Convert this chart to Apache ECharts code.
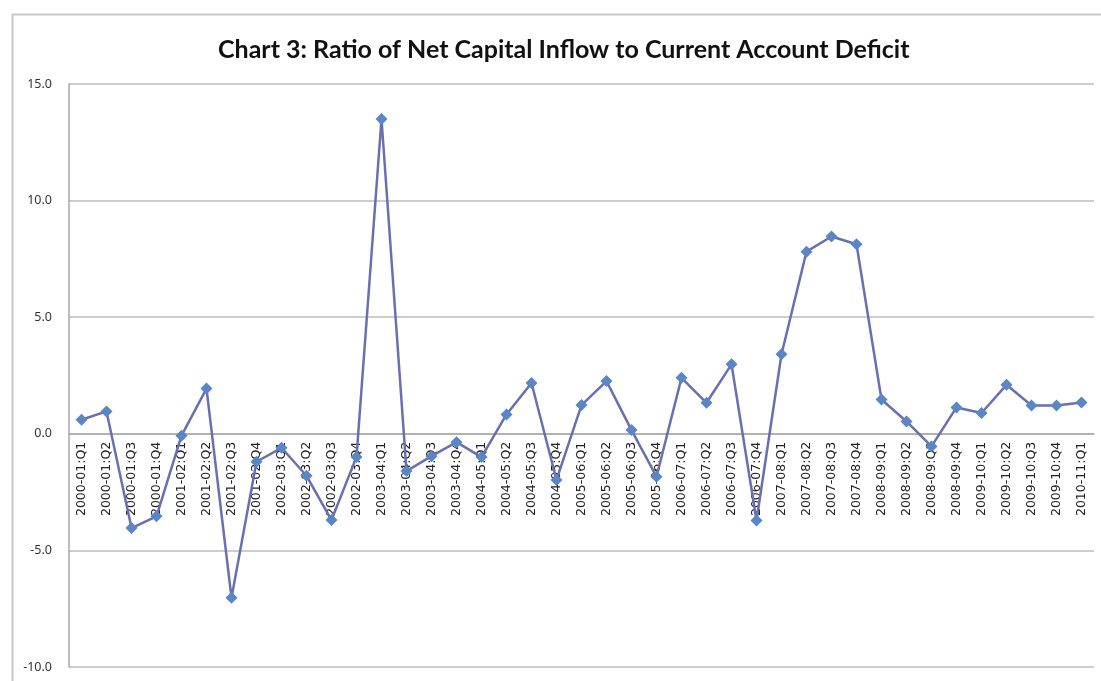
<!DOCTYPE html>
<html>
<head>
<meta charset="utf-8">
<script src="https://cdn.jsdelivr.net/npm/echarts@6/dist/echarts.min.js"></script>
<style>
  html, body { margin: 0; padding: 0; background: #fff; }
  #main { width: 1101px; height: 681px; }
</style>
</head>
<body>
<div id="main"></div>
<script>
// quarters
var quarters = [
  '2000-01:Q1', '2000-01:Q2', '2000-01:Q3', '2000-01:Q4',
  '2001-02:Q1', '2001-02:Q2', '2001-02:Q3', '2001-02:Q4',
  '2002-03:Q1', '2002-03:Q2', '2002-03:Q3', '2002-03:Q4',
  '2003-04:Q1', '2003-04:Q2', '2003-04:Q3', '2003-04:Q4',
  '2004-05:Q1', '2004-05:Q2', '2004-05:Q3', '2004-05:Q4',
  '2005-06:Q1', '2005-06:Q2', '2005-06:Q3', '2005-06:Q4',
  '2006-07:Q1', '2006-07:Q2', '2006-07:Q3', '2006-07:Q4',
  '2007-08:Q1', '2007-08:Q2', '2007-08:Q3', '2007-08:Q4',
  '2008-09:Q1', '2008-09:Q2', '2008-09:Q3', '2008-09:Q4',
  '2009-10:Q1', '2009-10:Q2', '2009-10:Q3', '2009-10:Q4',
  '2010-11:Q1'
];
// ratio of net capital inflow to CAD
var ratio = [
  0.60, 0.96, -4.04, -3.54,
  -0.08, 1.94, -7.03, -1.20,
  -0.60, -1.80, -3.70, -0.99,
  13.50, -1.60, -0.96, -0.36,
  -1.00, 0.83, 2.18, -1.98,
  1.23, 2.26, 0.16, -1.84,
  2.40, 1.33, 2.98, -3.72,
  3.41, 7.81, 8.46, 8.13,
  1.47, 0.53, -0.54, 1.13,
  0.89, 2.10, 1.21, 1.21,
  1.34
];

var gridTop = 84, gridBottom = 14;
var yMin = -10, yMax = 15;
// pixel distance from grid bottom up to the zero line
var zeroOffset = (681 - gridTop - gridBottom) * (0 - yMin) / (yMax - yMin);

var chart = echarts.init(document.getElementById('main'));
var option = {
  animation: false,
  backgroundColor: '#fff',
  title: {
    text: 'Chart 3: Ratio of Net Capital Inflow to Current Account Deficit',
    left: 213,
    top: 32,
    textStyle: {
      fontFamily: 'Lato',
      fontWeight: 'bold',
      fontSize: 25,
      color: '#111'
    }
  },
  graphic: [{
    type: 'rect',
    shape: { x: 12.5, y: 14.5, width: 1200, height: 800 },
    style: { fill: 'none', stroke: '#c8c8c8', lineWidth: 2 },
    silent: true
  }],
  grid: {
    left: 69,
    right: 7,
    top: gridTop,
    bottom: gridBottom,
    containLabel: false,
    outerBoundsMode: 'none'
  },
  xAxis: {
    type: 'category',
    data: quarters,
    boundaryGap: true,
    position: 'bottom',
    offset: -zeroOffset,
    axisLine: { onZero: false, lineStyle: { color: '#a8a8a8', width: 1.5 } },
    axisTick: { show: false },
    axisLabel: {
      interval: 0,
      rotate: 90,
      margin: 8,
      fontFamily: 'DejaVu Sans',
      fontSize: 12.5,
      color: '#222'
    }
  },
  yAxis: {
    type: 'value',
    min: yMin,
    max: yMax,
    interval: 5,
    axisLine: { show: true, lineStyle: { color: '#a8a8a8', width: 1.5 } },
    axisTick: { show: false },
    splitLine: { lineStyle: { color: '#bcbcbc', width: 1.5 } },
    axisLabel: {
      margin: 17,
      fontFamily: 'Noto Sans',
      fontSize: 12.5,
      color: '#333',
      formatter: function (v) { return v.toFixed(1); }
    }
  },
  series: [{
    type: 'line',
    data: ratio,
    symbol: 'diamond',
    symbolSize: 12,
    z: 3,
    itemStyle: { color: '#5b86c6' },
    lineStyle: { color: '#6a6fb0', width: 2.5 }
  }]
};
chart.setOption(option);
</script>
</body>
</html>
